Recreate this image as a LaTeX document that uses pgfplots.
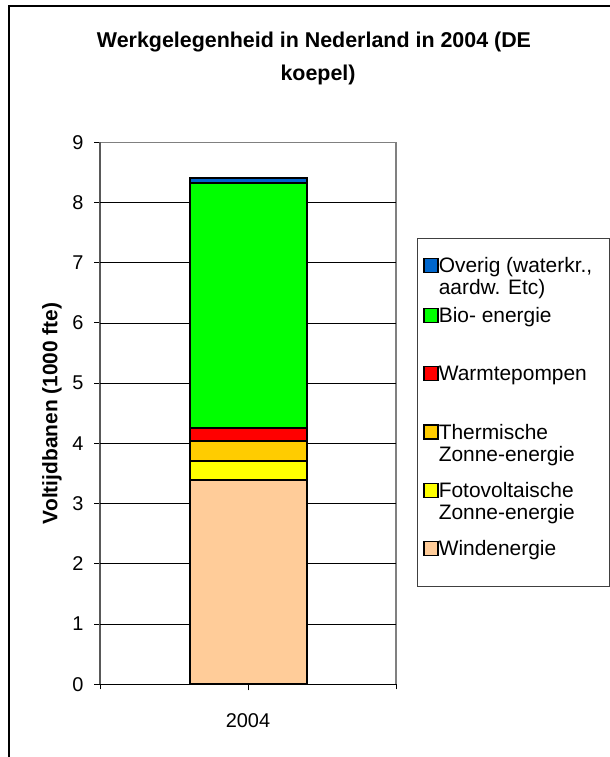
\documentclass[border=0pt]{standalone}
\usepackage{pgfplots}
\pgfplotsset{compat=1.18}
\usepackage{fontspec}
\setmainfont{Liberation Sans}

\definecolor{cWind}{HTML}{FFCC99}
\definecolor{cPV}{HTML}{FFFF00}
\definecolor{cTherm}{HTML}{FFCC00}
\definecolor{cWarm}{HTML}{FF0000}
\definecolor{cBio}{HTML}{00FF00}
\definecolor{cOverig}{HTML}{0066CC}

% legend text: fixed-height box so the rows keep the reference spacing
\newcommand{\lentry}[2]{\parbox[t][#1][t]{165bp}{\raggedright\strut #2}}

\pgfplotsset{
  seg/.style={fill=#1, draw=black, line width=2bp,
    legend image code/.code={\draw[##1, line width=1.5bp] (0.75bp,0.2bp) rectangle (14.75bp,14.2bp);}},
}

\begin{document}
\begin{tikzpicture}
\useasboundingbox (0,0) rectangle (610bp,-757bp);
\draw[line width=1.2bp] (9bp,-757bp) -- (9bp,-6bp) -- (610bp,-6bp);
\node[font=\fontsize{21.5}{25}\selectfont\bfseries, anchor=base] at (314bp,-47.7bp)
  {Werkgelegenheid in Nederland in 2004 (DE};
\node[font=\fontsize{21.5}{25}\selectfont\bfseries, anchor=base] at (318bp,-80bp) {koepel)};

\begin{axis}[
  at={(100bp,-684.3bp)}, anchor=south west,
  width=296bp, height=542bp, scale only axis,
  ybar stacked, bar width=117bp,
  xmin=-1, xmax=1, ymin=0, ymax=9,
  axis lines*=left,
  x axis line style={-, black, line width=1.2bp},
  y axis line style={-, black!65, line width=1.5bp},
  axis background/.style={draw=black!50, line width=1.2bp},
  tick align=outside,
  ytick={0,...,9},
  major tick length=6bp,
  tick style={black, line width=1bp},
  extra y ticks={1,...,8}, extra y tick labels={},
  extra y tick style={grid=major, major tick length=0bp},
  grid style={black, line width=0.8bp},
  xtick={0}, xticklabels={2004},
  extra x ticks={-1,1}, extra x tick labels={},
  extra x tick style={major tick length=5bp},
  ticklabel style={font=\fontsize{20}{24}\selectfont},
  yticklabel style={xshift=-7bp},
  xticklabel style={yshift=-20bp},
  /pgf/number format/assume math mode=true,
  every axis y label/.style={at={(axis description cs:-0.144,0.5)}, rotate=90, anchor=base,
    font=\fontsize{21}{25}\selectfont\bfseries},
  ylabel={Voltijdbanen (1000 fte)},
  reverse legend,
  legend style={at={(1.0699,0.824)}, anchor=north west,
    draw=black!75, line width=1.2bp, fill=white,
    inner xsep=6bp, inner ysep=19bp, row sep=0bp,
    font=\fontsize{21}{22}\selectfont,
    cells={anchor=base west}, nodes={inner sep=0bp, text height=, text depth=},
    /tikz/every even column/.append style={column sep=5bp}},
]
\addplot[seg=cWind] coordinates {(0,3.4)};
\addlegendentry{\lentry{27bp}{Windenergie}}
\addplot[seg=cPV] coordinates {(0,0.3)};
\addlegendentry{\lentry{58.3bp}{Fotovoltaische\\Zonne-energie}}
\addplot[seg=cTherm] coordinates {(0,0.34)};
\addlegendentry{\lentry{58.3bp}{Thermische\\Zonne-energie}}
\addplot[seg=cWarm] coordinates {(0,0.21)};
\addlegendentry{\lentry{58.3bp}{Warmtepompen}}
\addplot[seg=cBio] coordinates {(0,4.07)};
\addlegendentry{\lentry{58.3bp}{Bio- energie}}
\addplot[seg=cOverig] coordinates {(0,0.09)};
\addlegendentry{\lentry{50bp}{Overig (waterkr.,\\aardw. Etc)}}
\end{axis}
\end{tikzpicture}
\end{document}
